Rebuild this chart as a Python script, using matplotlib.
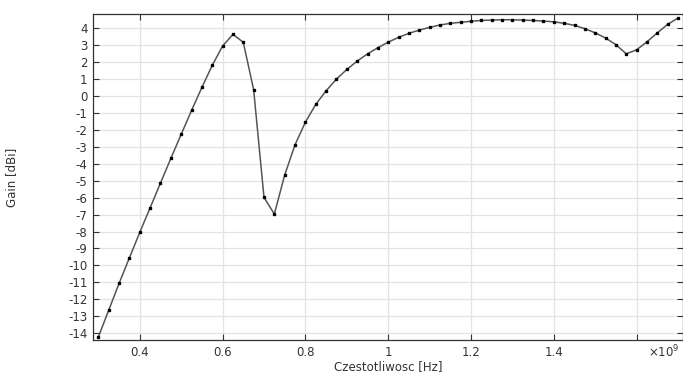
# Gain vs frequency chart

import matplotlib
matplotlib.use('Agg')
import matplotlib.pyplot as plt

# frequency in GHz (axis shows x10^9 Hz)
freq_ghz = [0.3, 0.325, 0.35, 0.375, 0.4, 0.425, 0.45, 0.475, 0.5, 0.525,
            0.55, 0.575, 0.6, 0.625, 0.65, 0.675, 0.7, 0.725, 0.75, 0.775,
            0.8, 0.825, 0.85, 0.875, 0.9, 0.925, 0.95, 0.975, 1.0, 1.025,
            1.05, 1.075, 1.1, 1.125, 1.15, 1.175, 1.2, 1.225, 1.25, 1.275,
            1.3, 1.325, 1.35, 1.375, 1.4, 1.425, 1.45, 1.475, 1.5, 1.525,
            1.55, 1.575, 1.6, 1.625, 1.65, 1.675, 1.7]
gain_dbi = [-14.22, -12.64, -11.06, -9.55, -8.05, -6.6, -5.14, -3.69, -2.27, -0.86,
            0.5, 1.8, 2.94, 3.63, 3.16, 0.36, -5.99, -6.97, -4.67, -2.88,
            -1.55, -0.5, 0.3, 0.99, 1.56, 2.05, 2.48, 2.84, 3.17, 3.45,
            3.69, 3.88, 4.04, 4.18, 4.28, 4.34, 4.40, 4.45, 4.47, 4.49,
            4.49, 4.47, 4.45, 4.41, 4.37, 4.28, 4.16, 3.96, 3.72, 3.41,
            3.02, 2.48, 2.72, 3.19, 3.72, 4.22, 4.59]
xticks = [0.4, 0.6, 0.8, 1.0, 1.2, 1.4, 1.6]
xtick_labels = ['0.4', '0.6', '0.8', '1', '1.2', '1.4', '']
yticks = list(range(-14, 5))

text_color = '#333333'
plt.rcParams['font.family'] = 'DejaVu Sans'
plt.rcParams['font.size'] = 8

fig = plt.figure(figsize=(6.83, 3.77), dpi=100)
ax = fig.add_axes([93 / 683, 1 - 340 / 377, 590 / 683, 326 / 377])

ax.plot(freq_ghz, gain_dbi, color='#555555', linewidth=1.1,
        marker='s', markersize=2.0, markerfacecolor='black', markeredgecolor='black')

ax.set_xlim(0.287, 1.712)
ax.set_ylim(-14.4, 4.83)
ax.set_xticks(xticks)
ax.set_xticklabels(xtick_labels)
ax.set_yticks(yticks)
ax.set_yticklabels([str(v) for v in yticks])

ax.grid(True, color='#e3e3e3', linewidth=0.9)
ax.set_axisbelow(True)
ax.tick_params(direction='in', top=True, right=True, length=4, width=0.8,
               colors=text_color, labelcolor=text_color, labelsize=8.5, pad=4)
for s in ax.spines.values():
    s.set_color('#333333')
    s.set_linewidth(0.9)

ax.set_xlabel('Czestotliwosc [Hz]', color=text_color, fontsize=8.5, labelpad=1)
ax.set_ylabel('Gain [dBi]', color=text_color, fontsize=8.5)
ax.yaxis.set_label_coords(-0.127, 0.5)

# x10^9 multiplier at right end of the x axis, on the tick label line
ax.text(1.665, -0.037, r'$\times$10$^9$', transform=ax.get_xaxis_transform(),
        ha='center', va='center', color=text_color, fontsize=8.5)

fig.savefig('out.png', dpi=100)
